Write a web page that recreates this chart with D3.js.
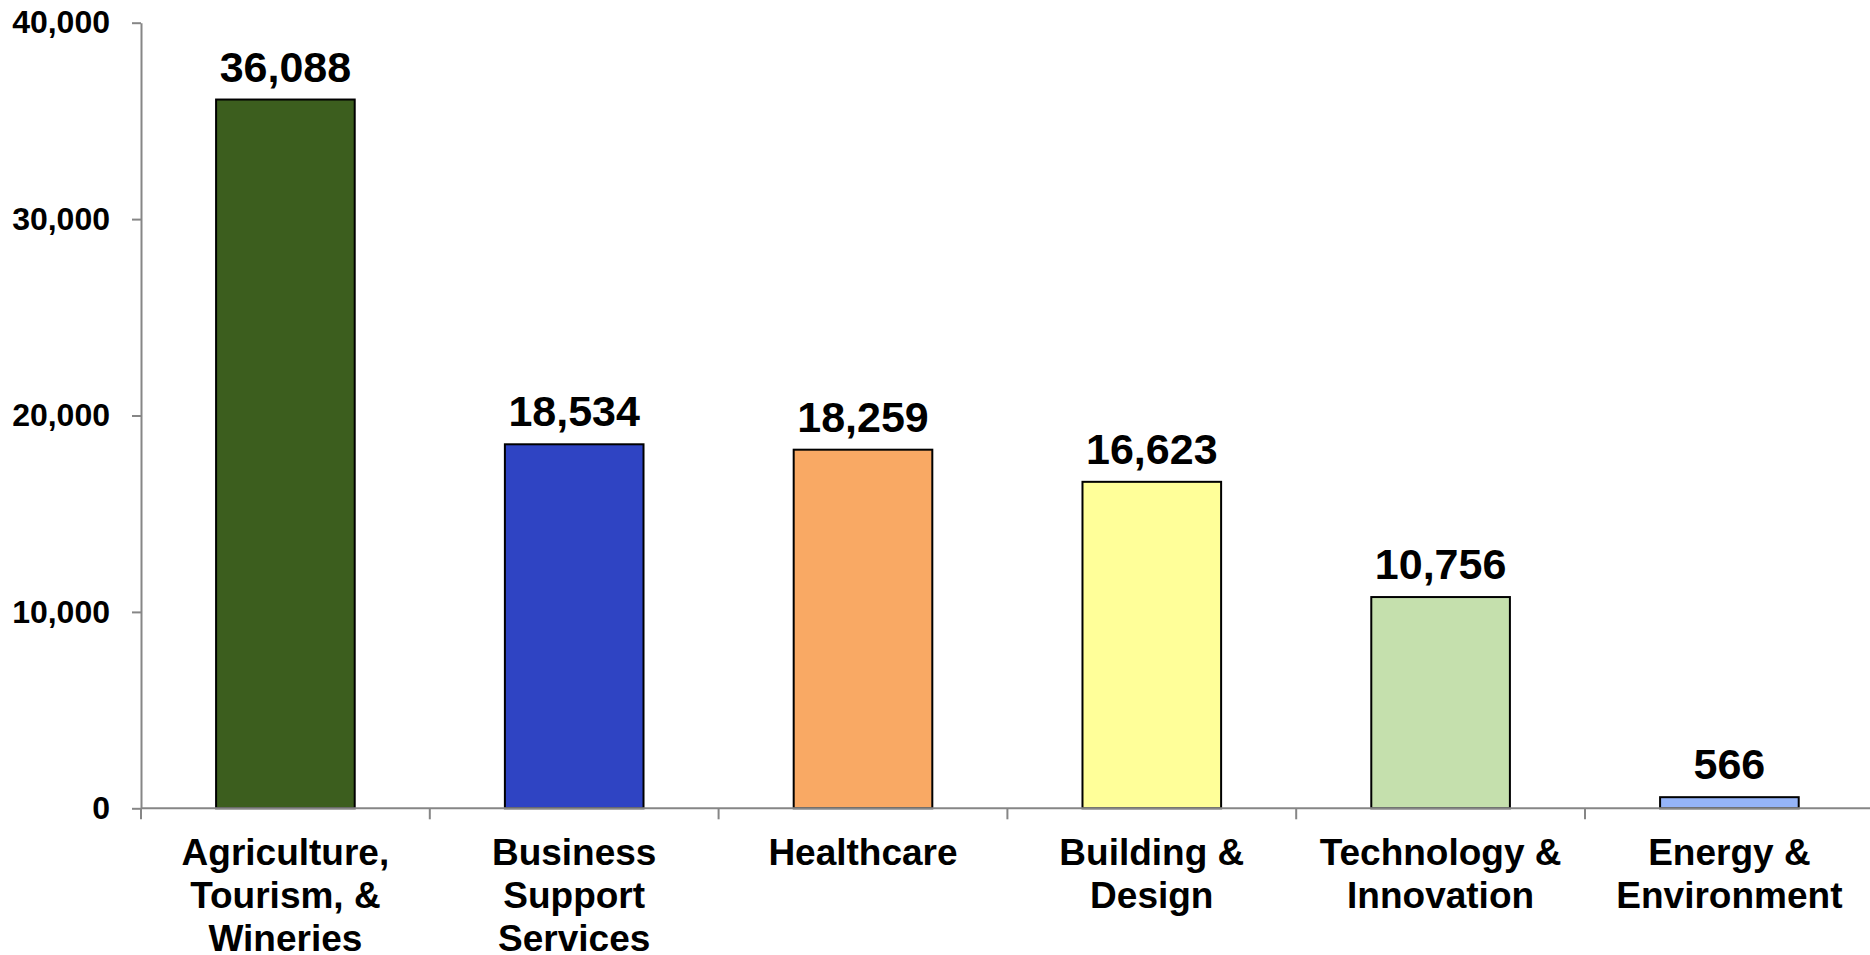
<!DOCTYPE html>
<html>
<head>
<meta charset="utf-8">
<script src="https://cdn.jsdelivr.net/npm/d3@7/dist/d3.min.js"></script>
<style>
  html, body { margin: 0; padding: 0; background: #fff; }
  svg { display: block; font-family: "Liberation Sans", Arial, sans-serif; }
</style>
</head>
<body>
<svg id="chart" width="1870" height="955"></svg>
<script>
// Employment by industry cluster
const categories = [
  ["Agriculture,", "Tourism, &", "Wineries"],
  ["Business", "Support", "Services"],
  ["Healthcare"],
  ["Building &", "Design"],
  ["Technology &", "Innovation"],
  ["Energy &", "Environment"]
];
const values = [36088, 18534, 18259, 16623, 10756, 566];
const barColors = ["#3c5e1e", "#2f44c3", "#f9a964", "#ffff99", "#c5e0ad", "#95b4f8"];
const yTicks = [0, 10000, 20000, 30000, 40000];

const svg = d3.select("#chart");
const left = 141, zeroY = 808.3, topY = 22.7, step = 288.8;

const x = d3.scaleBand()
  .domain(d3.range(values.length))
  .range([left, left + step * values.length])
  .paddingInner(0.52)
  .paddingOuter(0.26);

const y = d3.scaleLinear().domain([0, 40000]).range([zeroY, topY]);

const axisColor = "#868686";

// Y axis
const yAxis = svg.append("g")
  .attr("transform", `translate(${left},0)`)
  .call(d3.axisLeft(y).tickValues(yTicks).tickSize(9).tickSizeOuter(0).tickPadding(22)
    .tickFormat(d3.format(",")));
yAxis.select(".domain").attr("stroke", axisColor).attr("stroke-width", 2);
yAxis.selectAll(".tick line").attr("stroke", axisColor).attr("stroke-width", 2);
yAxis.selectAll(".tick text")
  .attr("fill", "#000").attr("font-size", 32).attr("font-weight", "bold")
  .attr("font-family", "Liberation Sans, Arial, sans-serif");

// Bars
svg.append("g").selectAll("rect")
  .data(values)
  .join("rect")
  .attr("x", (d, i) => x(i))
  .attr("width", x.bandwidth())
  .attr("y", d => y(d))
  .attr("height", d => y(0) - y(d))
  .attr("fill", (d, i) => barColors[i])
  .attr("stroke", "#000")
  .attr("stroke-width", 2);

// X axis with category separators
const bounds = d3.range(values.length + 1).map(i => left + i * step);
const xg = svg.append("g");
xg.append("line")
  .attr("x1", left).attr("x2", 1870)
  .attr("y1", y(0)).attr("y2", y(0))
  .attr("stroke", axisColor).attr("stroke-width", 2);
xg.selectAll("line.sep")
  .data(bounds)
  .join("line")
  .attr("class", "sep")
  .attr("x1", d => d).attr("x2", d => d)
  .attr("y1", y(0)).attr("y2", y(0) + 11)
  .attr("stroke", axisColor).attr("stroke-width", 2);

// Value labels
svg.append("g").selectAll("text")
  .data(values)
  .join("text")
  .attr("x", (d, i) => x(i) + x.bandwidth() / 2)
  .attr("y", d => y(d) - 18)
  .attr("text-anchor", "middle")
  .attr("font-size", 43)
  .attr("font-weight", "bold")
  .attr("fill", "#000")
  .text(d => d3.format(",")(d));

// Category labels
const cat = svg.append("g").selectAll("text")
  .data(categories)
  .join("text")
  .attr("x", (d, i) => x(i) + x.bandwidth() / 2)
  .attr("y", y(0) + 57)
  .attr("text-anchor", "middle")
  .attr("font-size", 37)
  .attr("font-weight", "bold")
  .attr("fill", "#000");
cat.selectAll("tspan")
  .data((d, i) => d.map(t => ({ t, i })))
  .join("tspan")
  .attr("x", d => x(d.i) + x.bandwidth() / 2)
  .attr("dy", (d, j) => j === 0 ? 0 : 43)
  .text(d => d.t);
</script>
</body>
</html>
